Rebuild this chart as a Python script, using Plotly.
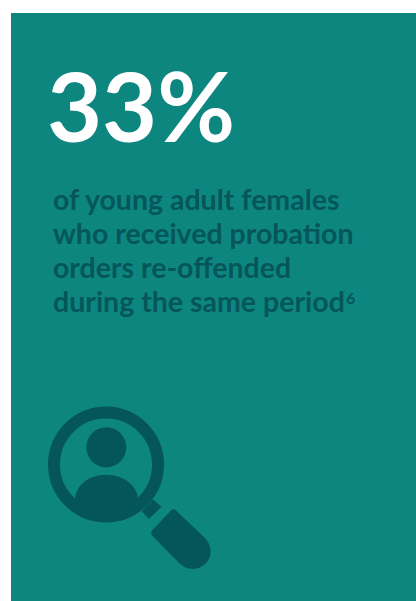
import plotly.graph_objects as go

headline = "33%"
lines = ["of young adult females", "who received probation", "orders re-offended", "during the same period"]
line_y = [199, 233, 267, 301]
footnote = "6"

BG = "#0e8680"
DARK = "#05565a"

body = "M75,500 C75,486 88,474.7 106,474.7 C124,474.7 138,486 138,500 C128,517 117,522 106,522 C95,522 84,517 75,500 Z"
neck = "M153,499.5 L161.5,506.7 L149,519 L141.7,511.3 Z"
handle = ("M171,510.5 Q173.5,508 176,510.5 L205,538 "
          "C214,548 211,560 204,565 C196,571 186,570 179,563 "
          "L152.5,536 Q150,533 152.5,530 Z")

fig = go.Figure()
fig.add_trace(go.Scatter(x=[], y=[], hoverinfo="skip", showlegend=False))
shapes = [
    dict(type="rect", x0=11, x1=416, y0=13, y1=601, fillcolor=BG, line_width=0, layer="below"),
    dict(type="circle", x0=54, x1=158, y0=412.5, y1=516.5, line=dict(color=DARK, width=12), fillcolor="rgba(0,0,0,0)", layer="below"),
    dict(type="circle", x0=86.3, x1=126.3, y0=427.3, y1=467.3, fillcolor=DARK, line_width=0, layer="below"),
]
for p in (body, neck, handle):
    shapes.append(dict(type="path", path=p, fillcolor=DARK, line_width=0, layer="below"))

ann = [dict(x=44.5, y=105, text=headline, showarrow=False, xanchor="left", yanchor="middle",
            font=dict(family="Lato", size=95, color="white", weight=700))]
for t, y in zip(lines, line_y):
    ann.append(dict(x=51, y=y, text=t, showarrow=False, xanchor="left", yanchor="middle",
                    font=dict(family="Lato", size=28.5, color=DARK, weight=700)))
ann.append(dict(x=343.5, y=297, text=footnote, showarrow=False, xanchor="left", yanchor="middle",
                font=dict(family="Lato", size=16, color=DARK, weight=700)))

fig.update_layout(
    width=416, height=601, margin=dict(l=0, r=0, t=0, b=0),
    paper_bgcolor="white", plot_bgcolor="white", showlegend=False,
    xaxis=dict(range=[0, 416], visible=False, fixedrange=True),
    yaxis=dict(range=[601, 0], visible=False, fixedrange=True),
    shapes=shapes, annotations=ann,
)
fig.write_html("out.html", config=dict(displayModeBar=False), default_width="416px", default_height="601px",
               include_plotlyjs=True,
               post_script="document.body.style.margin='0';document.documentElement.style.overflow='hidden';")
